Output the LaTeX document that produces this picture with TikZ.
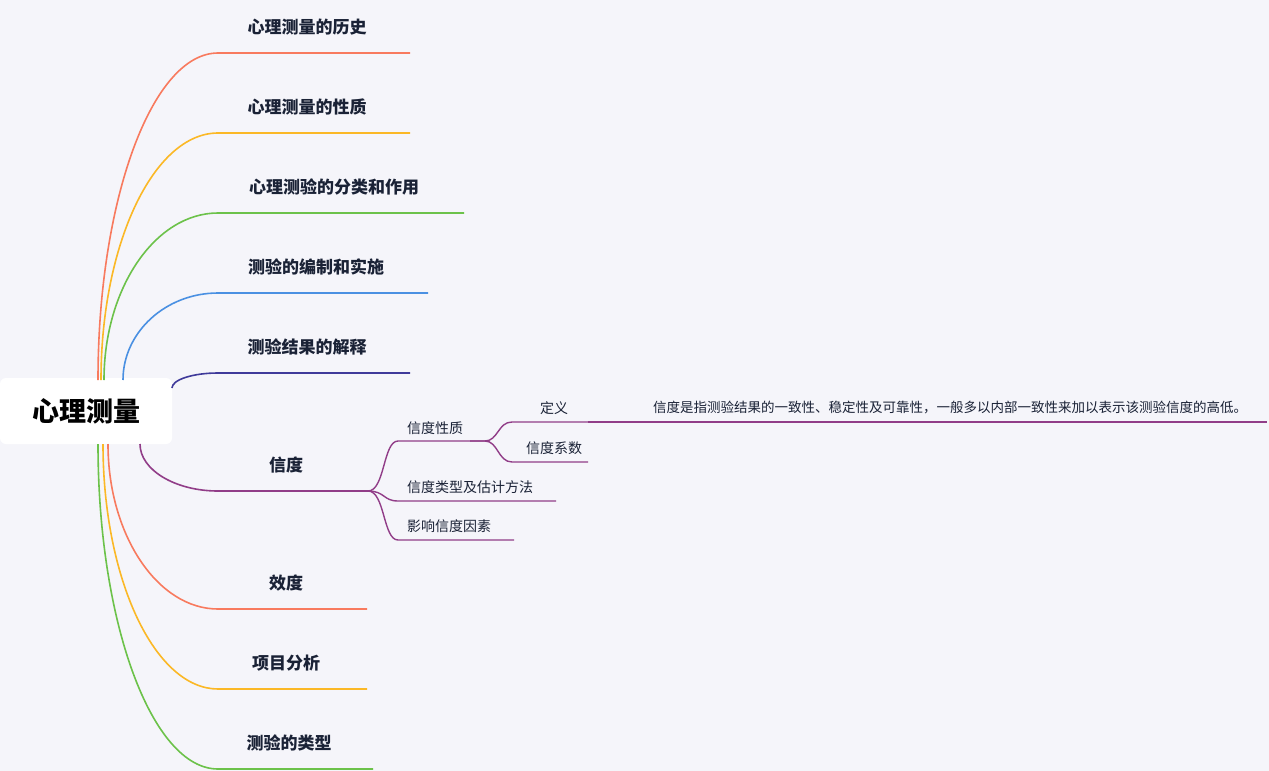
\documentclass[tikz,border=0pt]{standalone}
\usepackage{fontspec}
\setmainfont{Noto Sans CJK SC}
\begin{document}
\begin{tikzpicture}[x=1pt,y=-1pt,
  br/.style={line width=1.6pt},
  sb/.style={line width=1.4pt,draw=cP},
  lab/.style={font=\bfseries\fontsize{17}{20}\selectfont,text=cT},
  sl/.style={font=\fontsize{14}{16}\selectfont,text=cT}]
\definecolor{bg}{HTML}{F5F5FA}
\definecolor{cT}{HTML}{1A2236}
\definecolor{cR}{HTML}{F87A5E}
\definecolor{cY}{HTML}{FBB826}
\definecolor{cG}{HTML}{6CC24A}
\definecolor{cB}{HTML}{4A90E2}
\definecolor{cD}{HTML}{3F3A9A}
\definecolor{cP}{HTML}{913D88}
\fill[bg] (0,0) rectangle (1269,771);
\useasboundingbox (0,0) rectangle (1269,771);
\node[fill=white,rounded corners=6pt,minimum width=172pt,minimum height=66pt,font=\bfseries\fontsize{27}{30}\selectfont,text=black] (root) at (86,411) {心理测量};
% branches
\foreach \sx/\sy/\ly/\ex/\c/\t/\tx/\nm in {
 98/380/53/410/cR/心理测量的历史/307/b1,
 101/380/133/410/cY/心理测量的性质/307/b2,
 104/380/213/464/cG/心理测验的分类和作用/334/b3,
 123/380/293/428/cB/测验的编制和实施/316/b4,
 172/388/373/410/cD/测验结果的解释/307/b5,
 140/444/491/368/cP/信度/286/b6,
 108/444/609/367/cR/效度/286/b7,
 103/444/689/367/cY/项目分析/286/b8,
 98/444/769/373/cG/测验的类型/289/b9}{
  \coordinate (\nm s) at (\sx,\sy);
  \coordinate (\nm m) at (218,\ly);
  \coordinate (\nm e) at (\ex,\ly);
  \pgfmathsetmacro{\dy}{\ly-\sy}
  \draw[br,draw=\c] (\nm s) .. controls (\sx,\sy+0.55*\dy) and (218-0.55*218+0.55*\sx,\ly) .. (\nm m) -- (\nm e);
  \node[lab] (\nm t) at (\tx,\ly-26) {\t};
}
% sub-branches of 信度
\coordinate (p0) at (368,491);
\foreach \ly/\ex/\nm in {441/470/c1,501/556/c2,540/514/c3}{
  \coordinate (\nm m) at (398,\ly);
  \coordinate (\nm e) at (\ex,\ly);
  \draw[sb] (p0) .. controls (385,491) and (383,\ly) .. (\nm m) -- (\nm e);
}
\node[sl] (c1t) at (435,428) {信度性质};
\node[sl] (c2t) at (470,487) {信度类型及估计方法};
\node[sl] (c3t) at (449,526) {影响信度因素};
\coordinate (q0) at (485,441);
\foreach \ly/\nm in {422/d1,462/d2}{
  \coordinate (\nm m) at (512,\ly);
  \coordinate (\nm e) at (588,\ly);
  \draw[sb] (c1e) -- (q0) .. controls (498,441) and (498,\ly) .. (\nm m) -- (\nm e);
}
\node[sl] (d1t) at (554,408) {定义};
\node[sl] (d2t) at (554,448) {信度系数};
\coordinate (f0) at (606,422);
\coordinate (f1) at (1267,422);
\draw[sb] (d1e) -- (f0) -- (f1);
\node[sl,font=\fontsize{13.5}{16}\selectfont] (ft) at (950,408) {信度是指测验结果的一致性、稳定性及可靠性，一般多以内部一致性来加以表示该测验信度的高低。};
\end{tikzpicture}
\end{document}
